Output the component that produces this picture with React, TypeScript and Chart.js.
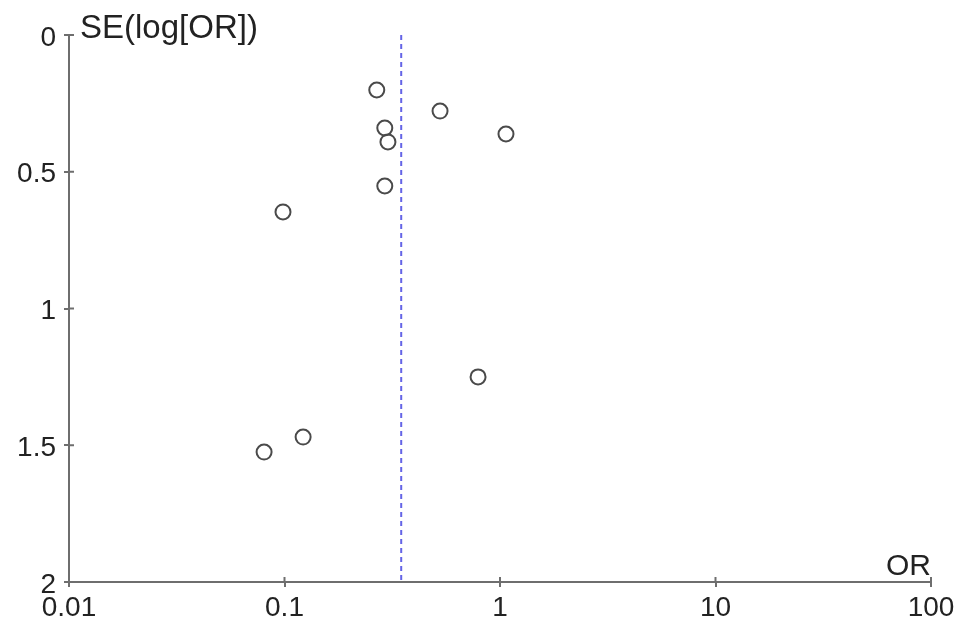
import React, { useEffect, useRef } from "react";
import { Chart, registerables } from "chart.js";

Chart.register(...registerables);

const studyOR = [0.268, 0.527, 0.292, 1.066, 0.302, 0.292, 0.0984, 0.791, 0.122, 0.0804];
const studySE = [0.201, 0.278, 0.340, 0.362, 0.391, 0.552, 0.647, 1.250, 1.470, 1.525];
const pooledOR = 0.348;
const xTickValues = [0.01, 0.1, 1, 10, 100];
const xTickLabels = ["0.01", "0.1", "1", "10", "100"];
const yTickValues = [0, 0.5, 1, 1.5, 2];
const yTickLabels = ["0", "0.5", "1", "1.5", "2"];
const yTitle = "SE(log[OR])";
const xTitle = "OR";

const FONT = "'Liberation Sans', Arial, Helvetica, sans-serif";
const AXIS_COLOR = "#6e6e6e";

export default function App() {
  const ref = useRef<HTMLCanvasElement | null>(null);

  useEffect(() => {
    if (!ref.current) return;
    const extrasPlugin = {
      id: "extras",
      afterDraw(chart: any) {
        const ctx = chart.ctx;
        const xs = chart.scales.x;
        const ys = chart.scales.y;
        const area = chart.chartArea;
        ctx.save();
        ctx.strokeStyle = AXIS_COLOR;
        ctx.lineWidth = 2;
        yTickValues.forEach((v) => {
          const py = ys.getPixelForValue(v);
          ctx.beginPath();
          ctx.moveTo(area.left, py);
          ctx.lineTo(area.left + 5, py);
          ctx.stroke();
        });
        xTickValues.forEach((v) => {
          const px = xs.getPixelForValue(v);
          ctx.beginPath();
          ctx.moveTo(px, area.bottom);
          ctx.lineTo(px, area.bottom - 5);
          ctx.stroke();
        });
        ctx.fillStyle = "#222";
        ctx.textBaseline = "alphabetic";
        ctx.textAlign = "left";
        ctx.font = `33px ${FONT}`;
        ctx.fillText(yTitle, area.left + 11, area.top + 3);
        ctx.textAlign = "right";
        ctx.font = `30px ${FONT}`;
        ctx.fillText(xTitle, area.right, area.bottom - 7);
        ctx.restore();
      },
    };

    const chart = new Chart(ref.current, {
      type: "scatter",
      data: {
        datasets: [
          {
            data: [
              { x: pooledOR, y: 0 },
              { x: pooledOR, y: 2 },
            ],
            showLine: true,
            borderColor: "#6464e6",
            borderWidth: 2,
            borderDash: [5, 4],
            pointRadius: 0,
            fill: false,
          } as any,
          {
            data: studyOR.map((x, i) => ({ x, y: studySE[i] })),
            pointStyle: "circle",
            pointRadius: 7.5,
            borderWidth: 2,
            borderColor: "#4a4a4a",
            backgroundColor: "rgba(255,255,255,0)",
          },
        ],
      },
      options: {
        animation: false,
        responsive: false,
        layout: { padding: { top: 35, right: 38, left: 0, bottom: 0 } },
        plugins: { legend: { display: false }, tooltip: { enabled: false } },
        scales: {
          x: {
            type: "logarithmic",
            min: 0.01,
            max: 100,
            afterBuildTicks: (s: any) => {
              s.ticks = xTickValues.map((v) => ({ value: v }));
            },
            afterFit: (s: any) => {
              s.height = 53;
            },
            ticks: {
              autoSkip: false,
              maxRotation: 0,
              padding: 4,
              color: "#222",
              font: { family: FONT, size: 28 },
              callback: (v: any) => {
                const i = xTickValues.findIndex((t) => Math.abs(t - v) < t * 1e-6);
                return i >= 0 ? xTickLabels[i] : "";
              },
            },
            grid: {
              display: true,
              drawOnChartArea: false,
              drawTicks: true,
              tickLength: 5,
              color: AXIS_COLOR,
              lineWidth: 2,
            },
            border: { display: true, color: AXIS_COLOR, width: 2 },
          } as any,
          y: {
            type: "linear",
            reverse: true,
            min: 0,
            max: 2,
            afterBuildTicks: (s: any) => {
              s.ticks = yTickValues.map((v) => ({ value: v }));
            },
            afterFit: (s: any) => {
              s.width = 69;
            },
            ticks: {
              autoSkip: false,
              padding: 8,
              labelOffset: 3,
              color: "#222",
              font: { family: FONT, size: 28 },
              callback: (v: any) => {
                const i = yTickValues.findIndex((t) => Math.abs(t - v) < 1e-9);
                return i >= 0 ? yTickLabels[i] : "";
              },
            },
            grid: {
              display: true,
              drawOnChartArea: false,
              drawTicks: true,
              tickLength: 5,
              color: AXIS_COLOR,
              lineWidth: 2,
            },
            border: { display: true, color: AXIS_COLOR, width: 2 },
          } as any,
        },
      },
      plugins: [extrasPlugin],
    });
    return () => chart.destroy();
  }, []);

  return (
    <canvas
      ref={ref}
      width={969}
      height={635}
      style={{ position: "absolute", left: 0, top: 0, display: "block", background: "#fff" }}
    />
  );
}
